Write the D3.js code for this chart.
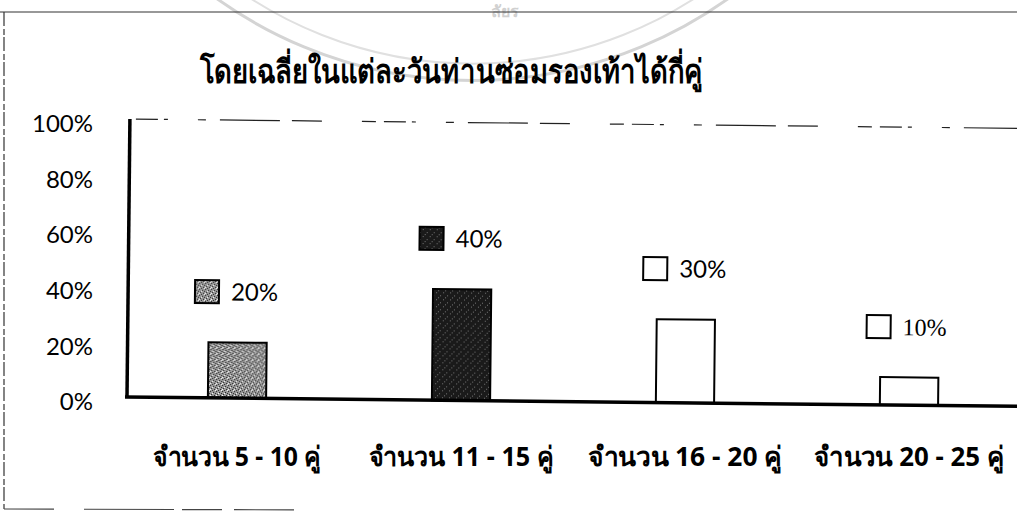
<!DOCTYPE html>
<html>
<head>
<meta charset="utf-8">
<script src="https://cdn.jsdelivr.net/npm/d3@7"></script>
<style>
  body { margin: 0; background: #fff; }
  svg { display: block; }
</style>
</head>
<body>
<svg id="chart" width="1017" height="518"></svg>
<script>
// data
var title = "โดยเฉลี่ยในแต่ละวันท่านซ่อมรองเท้าได้กี่คู่"
var categories = ["จำนวน 5 - 10 คู่", "จำนวน 11 - 15 คู่", "จำนวน 16 - 20 คู่", "จำนวน 20 - 25 คู่"]
var values = [20, 40, 30, 10]
var yTicks = [0, 20, 40, 60, 80, 100]

var svg = d3.select('#chart')

// fill patterns (speckled grey / near black)
var defs = svg.append('defs')
var speck = defs.append('pattern')
    .attr('id', 'speckle')
    .attr('width', 6).attr('height', 6)
    .attr('patternUnits', 'userSpaceOnUse')
speck.append('rect').attr('width', 6).attr('height', 6).attr('fill', '#9a9a9a')
var dots = [[0, 0], [3, 1], [1, 3], [4, 4], [5, 2], [2, 5]]
speck.selectAll('rect.d').data(dots).enter().append('rect')
    .attr('class', 'd')
    .attr('x', function (d) { return d[0] }).attr('y', function (d) { return d[1] })
    .attr('width', 1).attr('height', 1).attr('fill', '#222')
speck.selectAll('rect.w').data([[2, 2], [5, 5], [0, 4]]).enter().append('rect')
    .attr('class', 'w')
    .attr('x', function (d) { return d[0] }).attr('y', function (d) { return d[1] })
    .attr('width', 1).attr('height', 1).attr('fill', '#fff')

var dark = defs.append('pattern')
    .attr('id', 'dark')
    .attr('width', 7).attr('height', 7)
    .attr('patternUnits', 'userSpaceOnUse')
dark.append('rect').attr('width', 7).attr('height', 7).attr('fill', '#1a1a1a')
dark.selectAll('rect.w').data([[1, 2], [5, 5], [3, 0]]).enter().append('rect')
    .attr('class', 'w')
    .attr('x', function (d) { return d[0] }).attr('y', function (d) { return d[1] })
    .attr('width', 1).attr('height', 1).attr('fill', '#777')

var fillFor = d3.scaleOrdinal()
    .domain(categories)
    .range(['url(#speckle)', 'url(#dark)', '#fff', '#fff'])

// scales
var x = d3.scaleBand()
    .domain(categories)
    .range([125, 1021])
    .paddingInner(0.74)
    .paddingOuter(0.37)

var y = d3.scaleLinear()
    .domain([0, 100])
    .range([397, 119])

// scan frame + faint watermark
svg.append('path')
    .attr('d', 'M170,-40 A440,440 0 0,0 775,-40')
    .attr('fill', 'none').attr('stroke', '#d4d4d4').attr('stroke-width', 3)
svg.append('path')
    .attr('d', 'M200,-40 A410,410 0 0,0 745,-40')
    .attr('fill', 'none').attr('stroke', '#e0e0e0').attr('stroke-width', 2)
svg.append('text')
    .attr('x', 505).attr('y', 17)
    .attr('text-anchor', 'middle')
    .style('font-family', 'Noto Sans, DejaVu Sans, sans-serif')
    .style('font-size', '16px').style('font-weight', 'bold')
    .attr('fill', '#d0d0d0')
    .text('ลัยร')

svg.append('line')
    .attr('x1', 0).attr('x2', 1017).attr('y1', 12).attr('y2', 12)
    .attr('stroke', '#333').attr('stroke-width', 1.2)
svg.append('line')
    .attr('x1', 4).attr('x2', 4).attr('y1', 12).attr('y2', 509)
    .attr('stroke', '#333').attr('stroke-width', 1.2)
    .attr('stroke-dasharray', '14,3,6,2')
svg.append('line')
    .attr('x1', 4).attr('x2', 330).attr('y1', 509).attr('y2', 510)
    .attr('stroke', '#444').attr('stroke-width', 1.2)
    .attr('stroke-dasharray', '50,30,90,8,40,12,60,400')

// title
svg.append('text')
    .attr('x', 451).attr('y', 83)
    .attr('text-anchor', 'middle')
    .attr('textLength', 503)
    .attr('lengthAdjust', 'spacingAndGlyphs')
    .style('font-family', 'Noto Sans, DejaVu Sans, sans-serif')
    .style('font-size', '33px').style('font-weight', 'bold')
    .text(title)

// y tick labels
var yAxis = d3.axisLeft(y)
    .tickValues(yTicks)
    .tickFormat(function (d) { return d + '%' })
    .tickSize(0)
    .tickPadding(34)

var yg = svg.append('g')
    .attr('transform', 'translate(127,5)')
    .call(yAxis)
yg.select('.domain').remove()
yg.selectAll('text')
    .style('font-family', 'Lato, Open Sans, sans-serif')
    .style('font-size', '24px')
    .attr('fill', '#000')

// plot area, slightly skewed like the scan
var plot = svg.append('g')
    .attr('transform', 'rotate(0.6,127,397)')

plot.append('line')
    .attr('x1', 133).attr('x2', 1030)
    .attr('y1', y(100)).attr('y2', y(100))
    .attr('stroke', '#222').attr('stroke-width', 1.2)
    .attr('stroke-dasharray', '22,6,4,30,8,14,60,12,30,40,14,8')

plot.selectAll('.bar')
    .data(values)
    .enter()
    .append('rect')
    .attr('class', 'bar')
    .attr('x', function (d, i) { return x(categories[i]) })
    .attr('y', function (d) { return y(d) })
    .attr('width', x.bandwidth())
    .attr('height', function (d) { return y(0) - y(d) })
    .attr('fill', function (d, i) { return fillFor(categories[i]) })
    .attr('stroke', '#000')
    .attr('stroke-width', 2)

// little legend box + value above each bar
plot.selectAll('.key')
    .data(values)
    .enter()
    .append('rect')
    .attr('class', 'key')
    .attr('x', function (d, i) { return x(categories[i]) - 14 })
    .attr('y', function (d) { return y(d) - 62 })
    .attr('width', 24)
    .attr('height', 23)
    .attr('fill', function (d, i) { return fillFor(categories[i]) })
    .attr('stroke', '#000')
    .attr('stroke-width', 2)

plot.selectAll('.val')
    .data(values)
    .enter()
    .append('text')
    .attr('class', 'val')
    .attr('x', function (d, i) { return x(categories[i]) + 22 })
    .attr('y', function (d) { return y(d) - 42 })
    .style('font-family', function (d, i) { return i == 3 ? 'Liberation Serif, serif' : 'Lato, Open Sans, sans-serif' })
    .style('font-size', '24px')
    .text(function (d) { return d + '%' })

// axis lines
plot.append('line')
    .attr('x1', 127).attr('x2', 127)
    .attr('y1', y(0)).attr('y2', y(100))
    .attr('stroke', '#000').attr('stroke-width', 3.5)
plot.append('line')
    .attr('x1', 125).attr('x2', 1030)
    .attr('y1', y(0)).attr('y2', y(0))
    .attr('stroke', '#000').attr('stroke-width', 3.5)

// category labels
var xAxis = d3.axisBottom(x)
    .tickSize(0)
    .tickPadding(50)

var xg = svg.append('g')
    .attr('transform', 'translate(0,' + y(0) + ')')
    .call(xAxis)
xg.select('.domain').remove()
xg.selectAll('text')
    .attr('textLength', function (d, i) { return [168, 185, 194, 190][i] })
    .attr('lengthAdjust', 'spacingAndGlyphs')
    .style('font-family', 'Noto Sans, DejaVu Sans, sans-serif')
    .style('font-size', '27px')
    .style('font-weight', 'bold')
    .attr('fill', '#000')
</script>
</body>
</html>
